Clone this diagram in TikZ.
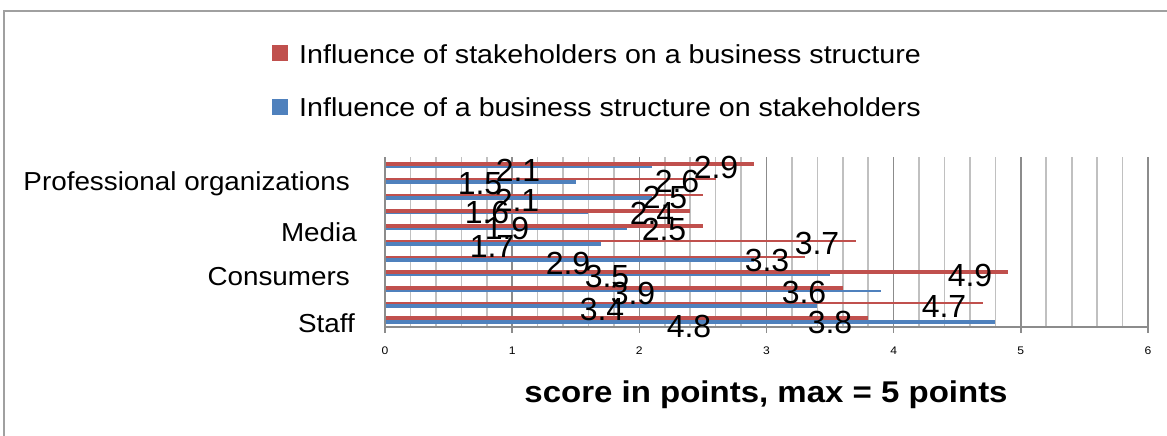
\documentclass[tikz,border=0pt]{standalone}
\usepackage{fontspec}
\setmainfont{Liberation Sans}
\newfontfamily\comic[FakeStretch=1.1]{Liberation Sans}
\newfontfamily\comiccat[FakeStretch=1.07]{Liberation Sans}
\definecolor{barred}{HTML}{C0504D}
\definecolor{barblue}{HTML}{4F81BD}
\definecolor{gridmaj}{HTML}{8C8C8C}
\definecolor{gridmin}{HTML}{C0C0C0}
\definecolor{framegray}{HTML}{A0A0A0}
\begin{document}
\begin{tikzpicture}[x=1pt,y=-1pt,
  val/.style={font=\fontsize{32}{32}\selectfont, inner sep=0pt, anchor=center},
  cat/.style={font=\comiccat\fontsize{26}{26}\selectfont, inner sep=0pt, anchor=east},
  leg/.style={font=\comic\fontsize{26}{26}\selectfont, inner sep=0pt, anchor=west},
  tick/.style={font=\comic\fontsize{11}{11}\selectfont, inner sep=0pt, anchor=center},
  axtitle/.style={font=\comic\bfseries\fontsize{30}{30}\selectfont, inner sep=0pt, anchor=center},
  majline/.style={draw=gridmaj, line width=1.6pt},
  minline/.style={draw=gridmin, line width=1.6pt}]
\useasboundingbox (0,0) rectangle (1167,436);
\fill[white] (0,0) rectangle (1167,436);
% outer frame (cropped)
\draw[framegray, line width=1.5pt] (4,436) -- (4,11) -- (1167,11);
% legend
\fill[barred] (272,45) rectangle (288,61);
\fill[barblue] (272,99) rectangle (288,115);
\node[leg] (leg1) at (299,54) {Influence of stakeholders on a business structure};
\node[leg] (leg2) at (299,107) {Influence of a business structure on stakeholders};
% gridlines
\foreach \i in {1,...,30}{
  \pgfmathsetmacro\gx{385+\i*127.17/5}
  \pgfmathtruncatemacro\m{mod(\i,5)}
  \ifnum\m=0
    \draw[majline] (\gx,157) -- (\gx,327);
  \else
    \draw[minline] (\gx,157) -- (\gx,327);
  \fi
}
% bars: y / value / height
\foreach \y/\v/\h in {167/2.1/2, 182/1.5/4, 198/2.1/4, 213/1.6/2, 229/1.9/2, 244/1.7/4, 260/2.9/4, 275/3.5/2, 291/3.9/2, 306/3.4/4, 322/4.8/4}{
  \fill[barblue] (385,\y-\h/2) rectangle (385+\v*127.17,\y+\h/2);
}
\foreach \y/\v/\h in {164/2.9/4, 179/2.6/2, 195/2.5/2, 211/2.4/4, 226/2.5/4, 241/3.7/2, 257/3.3/2, 272/4.9/4, 288/3.6/4, 303/4.7/2, 318/3.8/4}{
  \fill[barred] (385,\y-\h/2) rectangle (385+\v*127.17,\y+\h/2);
}
% axes
\draw[majline] (385,157) -- (385,333);
\draw[majline] (384,327) -- (1148,327);
\foreach \k in {0,...,6}{
  \draw[majline] (385+\k*127.17,327) -- (385+\k*127.17,333);
  \node[tick] (t\k) at (385+\k*127.17,351) {\k};
}
% category labels
\node[cat] (c1) at (350,184) {Professional organizations};
\node[cat] (c2) at (357,232) {Media};
\node[cat] (c3) at (350,277) {Consumers};
\node[cat] (c4) at (355,323) {Staff};
% data labels
\node[val] (v1) at (716,167) {2.9};
\node[val] (v2) at (518,170) {2.1};
\node[val] (v3) at (677,181) {2.6};
\node[val] (v4) at (480,184) {1.5};
\node[val] (v5) at (665,197) {2.5};
\node[val] (v6) at (517,200) {2.1};
\node[val] (v7) at (652,213) {2.4};
\node[val] (v8) at (487,212) {1.6};
\node[val] (v9) at (664,229) {2.5};
\node[val] (v10) at (507,228) {1.9};
\node[val] (v11) at (817,243) {3.7};
\node[val] (v12) at (492,246) {1.7};
\node[val] (v13) at (767,260) {3.3};
\node[val] (v14) at (568,263) {2.9};
\node[val] (v15) at (970,275) {4.9};
\node[val] (v16) at (607,276) {3.5};
\node[val] (v17) at (804,292) {3.6};
\node[val] (v18) at (633,293) {3.9};
\node[val] (v19) at (944,306) {4.7};
\node[val] (v20) at (602,309) {3.4};
\node[val] (v21) at (830,322) {3.8};
\node[val] (v22) at (689,326) {4.8};
% axis title
\node[axtitle] (title) at (766,395) {score in points, max = 5 points};
\end{tikzpicture}
\end{document}
